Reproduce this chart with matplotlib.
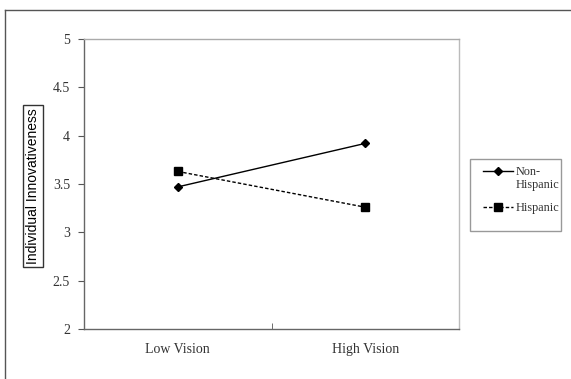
import matplotlib.pyplot as plt
from matplotlib.lines import Line2D
from matplotlib.patches import Rectangle

# dados
categorias = ["Low Vision", "High Vision"]
non_hispanic = [3.47, 3.92]
hispanic = [3.63, 3.26]
y_ticks = [2, 2.5, 3, 3.5, 4, 4.5, 5]
y_tick_labels = ["2", "2.5", "3", "3.5", "4", "4.5", "5"]

SERIF = "Liberation Serif"
SANS = "Liberation Sans"
W, H = 571, 379

def fx(px):
    return px / W

def fy(py):
    return 1 - py / H

fig = plt.figure(figsize=(5.71, 3.79), dpi=100)
ax = fig.add_axes([fx(84), 50/H, 375/W, 290/H])

estilo_nh = dict(color="black", linewidth=1.0, marker="D", markersize=4)
estilo_h = dict(color="black", linewidth=1.0, linestyle=(0, (2.5, 1.5)),
                marker="s", markersize=6)

x = [0.5, 1.5]
ax.plot(x, non_hispanic, **estilo_nh)
ax.plot(x, hispanic, **estilo_h)

ax.set_xlim(0, 2)
ax.set_ylim(2, 5)
ax.set_yticks(y_ticks)
ax.set_yticklabels(y_tick_labels, fontfamily=SERIF, fontsize=10, color="#333333")
ax.set_xticks([0.5, 1.5])
ax.set_xticklabels(categorias, fontfamily=SERIF, fontsize=10, color="#333333")
ax.set_xticks([0, 1, 2], minor=True)
ax.tick_params(axis="x", which="major", length=0, pad=10)
ax.tick_params(axis="x", which="minor", length=4, direction="in", color="#555555")
ax.tick_params(axis="y", length=4, direction="out", color="#555555", pad=6)

ax.spines["left"].set_color("#666666")
ax.spines["bottom"].set_color("#666666")
ax.spines["top"].set_color("#aaaaaa")
ax.spines["right"].set_color("#bbbbbb")
for s in ax.spines.values():
    s.set_linewidth(1.0)

# rotulo do eixo y com caixa
fig.text(fx(33), fy(186), "Individual Innovativeness", rotation=90,
         ha="center", va="center", fontfamily=SANS, fontsize=10,
         bbox=dict(boxstyle="square,pad=0.25", facecolor="white",
                   edgecolor="#333333", linewidth=1.0))

# legenda desenhada a mao (padding assimetrico do original)
fig.add_artist(Rectangle((fx(470), fy(231)), 91/W, 72/H, transform=fig.transFigure,
                         facecolor="white", edgecolor="#999999", linewidth=1.0))
hx = [fx(483), fx(498), fx(513)]
fig.add_artist(Line2D(hx, [fy(171)] * 3, transform=fig.transFigure,
                      markevery=[1], **estilo_nh))
fig.add_artist(Line2D(hx, [fy(207)] * 3, transform=fig.transFigure,
                      markevery=[1], **estilo_h))
for texto, py in [("Non-", 175), ("Hispanic", 188), ("Hispanic", 211)]:
    fig.text(fx(516), fy(py), texto, ha="left", va="baseline",
             fontfamily=SERIF, fontsize=8.8, color="#333333")

# moldura externa (so topo e esquerda aparecem)
fig.add_artist(Line2D([fx(5), 1.0], [fy(10), fy(10)], color="#555555",
                      linewidth=1.0, transform=fig.transFigure))
fig.add_artist(Line2D([fx(5), fx(5)], [0, fy(10)], color="#555555",
                      linewidth=1.0, transform=fig.transFigure))

fig.savefig("out.png", dpi=100)
